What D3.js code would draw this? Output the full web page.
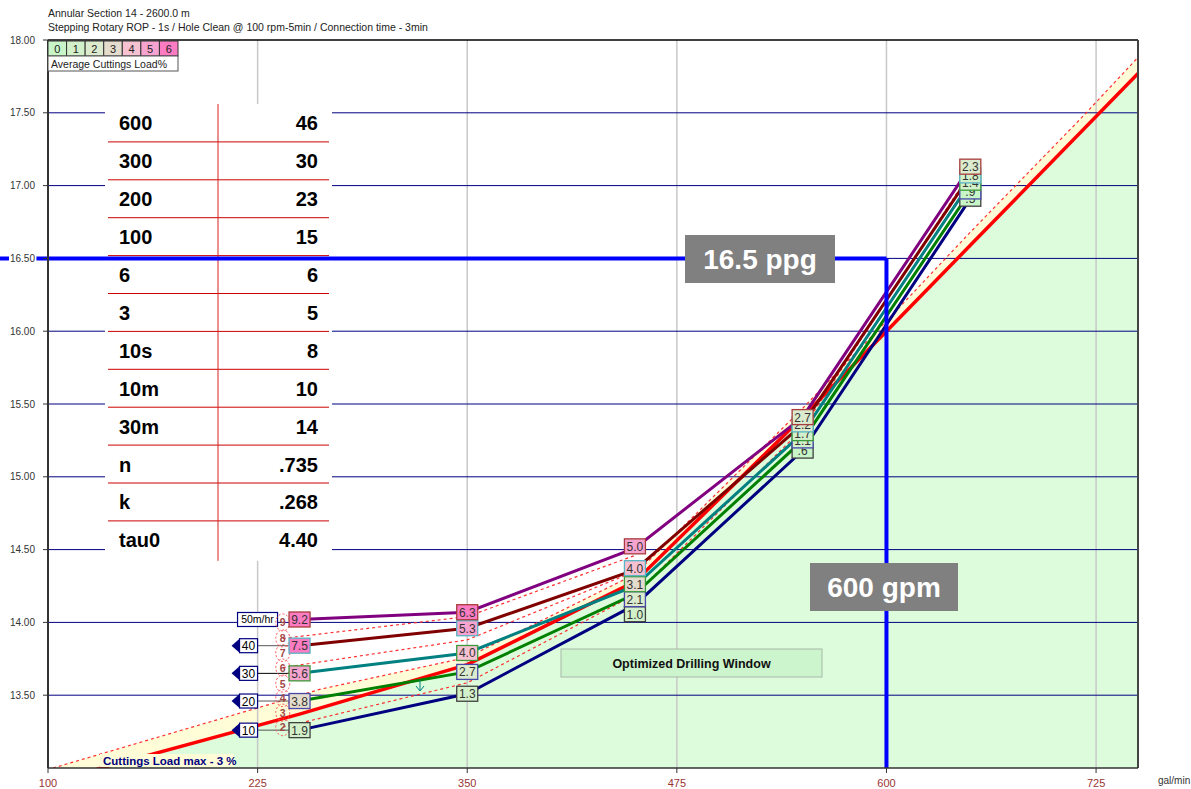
<!DOCTYPE html>
<html>
<head>
<meta charset="utf-8">
<script src="https://cdn.jsdelivr.net/npm/d3@7"></script>
<style>
  html, body { margin: 0; padding: 0; background: #fff; }
  svg { display: block; font-family: "Liberation Sans", Arial, sans-serif; }
</style>
</head>
<body>
<svg id="chart" width="1191" height="789"></svg>
<script>
// ---- data -------------------------------------------------------------
const titleLines = [
  "Annular Section 14 - 2600.0 m",
  "Stepping Rotary ROP - 1s / Hole Clean @ 100 rpm-5min / Connection time - 3min"
];
const xTicks = [100, 225, 350, 475, 600, 725];
const yTicks = [13.5, 14.0, 14.5, 15.0, 15.5, 16.0, 16.5, 17.0, 17.5, 18.0];

// flow rates (gal/min) at which each ROP curve is evaluated
const flowRates = [250, 350, 450, 550, 650];
const ropLabels = ["10", "20", "30", "40", "50m/hr"];
// equivalent circulating density (ppg) per ROP
const ecd10 = [13.26, 13.51, 14.12, 15.18, 16.91];
const ecd20 = [13.46, 13.66, 14.195, 15.25, 16.96];
const ecd30 = [13.65, 13.79, 14.25, 15.30, 17.02];
const ecd40 = [13.84, 13.96, 14.36, 15.36, 17.07];
const ecd50 = [14.02, 14.07, 14.51, 15.41, 17.13];
// average cuttings load (%) per ROP
const load10 = [1.9, 1.3, 1.0, 0.6, 0.5];
const load20 = [3.8, 2.7, 2.1, 1.1, 0.9];
const load30 = [5.6, 4.0, 3.1, 1.7, 1.4];
const load40 = [7.5, 5.3, 4.0, 2.2, 1.8];
const load50 = [9.2, 6.3, 5.0, 2.7, 2.3];

// cuttings load max 3 % limit line
const limitFlow = [100, 250, 350, 450, 550, 600, 650, 750];
const limitEcd  = [12.90, 13.37, 13.71, 14.28, 15.41, 16.00, 16.59, 17.77];
// upper edge of the tolerance band
const bandFlow = [103, 236, 262, 350, 450, 550, 600, 650, 715, 750];
const bandEcd  = [13.00, 13.45, 13.54, 13.76, 14.33, 15.47, 16.07, 16.68, 17.45, 17.88];
// cuttings load contour lines (dashed)
const contour2Flow = [240, 350, 450, 550, 650];
const contour2Ecd  = [13.28, 13.585, 14.19, 15.33, 17.09];
const contour6Flow = [240, 350, 450];
const contour6Ecd  = [13.69, 13.88, 14.35];
const contour8Flow = [240, 350, 450];
const contour8Ecd  = [13.89, 14.04, 14.46];

// contour level markers at the left end of the curves
const levelMarks = [2, 3, 4, 5, 6, 7, 8, 9];
const levelEcd   = [13.28, 13.38, 13.48, 13.58, 13.69, 13.79, 13.89, 14.00];
const levelFlow  = 240;

// legend of cuttings load classes
const legendClasses = ["0", "1", "2", "3", "4", "5", "6"];
const legendColors = ["#c8f5c8", "#d2f0c9", "#dcebcd", "#e4dccc", "#f6c2d2", "#f7a3cf", "#fb7cc2"];

// rheology table
const tableKeys   = ["600", "300", "200", "100", "6", "3", "10s", "10m", "30m", "n", "k", "tau0"];
const tableValues = ["46", "30", "23", "15", "6", "5", "8", "10", "14", ".735", ".268", "4.40"];

// operating point
const targetEcd = 16.5;
const targetFlow = 600;

// ---- styles -----------------------------------------------------------
const lineColors   = ["#000080", "#008000", "#008080", "#800000", "#800080"];
const boxBorders   = ["#404040", "#4848a8", "#3c9a3c", "#58b4c4", "#a83c3c"];
const loads = [load10, load20, load30, load40, load50];

const series = [ecd10, ecd20, ecd30, ecd40, ecd50].map((ecd, i) => ({
  rop: ropLabels[i],
  color: lineColors[i],
  border: boxBorders[i],
  points: flowRates.map((f, j) => ({ flow: f, ecd: ecd[j], load: loads[i][j] }))
}));

// ---- layout -----------------------------------------------------------
const svg = d3.select("#chart");
const plotL = 48, plotR = 1138, plotT = 40, plotB = 768;
const x = d3.scaleLinear().domain([100, 750]).range([plotL, plotR]);
const y = d3.scaleLinear().domain([13, 18]).range([plotB, plotT]);

svg.append("defs").append("clipPath").attr("id", "plotClip")
  .append("rect").attr("x", plotL).attr("y", plotT).attr("width", plotR - plotL).attr("height", plotB - plotT);

const plot = svg.append("g").attr("clip-path", "url(#plotClip)");

const toPts = (fs, es) => fs.map((f, i) => [f, es[i]]);
const line = d3.line().x(d => x(d[0])).y(d => y(d[1]));

// tolerance band (light yellow) between limit line and band edge
const bandPts = toPts(bandFlow, bandEcd);
const limitPts = toPts(limitFlow, limitEcd);
plot.append("path")
  .attr("d", line(bandPts.concat(limitPts.slice().reverse())) + "Z")
  .attr("fill", "#fffcd8");

// safe region below the limit line (light green)
const greenArea = d3.area().x(d => x(d[0])).y0(y(12)).y1(d => y(d[1]));
plot.append("path").attr("d", greenArea(limitPts)).attr("fill", "#dcfcdc");

// grid
plot.selectAll(".vgrid").data(xTicks.slice(1)).join("line")
  .attr("x1", d => x(d)).attr("x2", d => x(d))
  .attr("y1", plotT).attr("y2", plotB)
  .attr("stroke", "#c8c8c8").attr("stroke-width", 1.5);
plot.selectAll(".hgrid").data(yTicks.filter(v => v < 18)).join("line")
  .attr("x1", plotL).attr("x2", plotR)
  .attr("y1", d => y(d)).attr("y2", d => y(d))
  .attr("stroke", "#000080").attr("stroke-width", 1);

// window annotation
const win = svg.append("g");
win.append("rect").attr("x", 561).attr("y", 649).attr("width", 261).attr("height", 28)
  .attr("fill", "#cdf5cd").attr("stroke", "#a8b8a8");
win.append("text").attr("x", 691.5).attr("y", 668).attr("text-anchor", "middle")
  .attr("font-size", 12.5).attr("font-weight", "bold").attr("fill", "#111")
  .text("Optimized Drilling Window");

// dashed contour lines
const dashed = [toPts(contour2Flow, contour2Ecd), toPts(contour6Flow, contour6Ecd),
                toPts(contour8Flow, contour8Ecd), bandPts];
plot.selectAll(".contour").data(dashed).join("path")
  .attr("d", d => line(d))
  .attr("fill", "none").attr("stroke", "#ff3030").attr("stroke-width", 1.2)
  .attr("stroke-dasharray", "3,3");

// limit line
plot.append("path").attr("d", line(limitPts))
  .attr("fill", "none").attr("stroke", "#ff0000").attr("stroke-width", 3.5);

// ROP curves
plot.selectAll(".rop").data(series).join("path")
  .attr("d", s => d3.line().x(p => x(p.flow)).y(p => y(p.ecd))(s.points))
  .attr("fill", "none").attr("stroke", s => s.color).attr("stroke-width", 3);

// small flow-direction tick
svg.append("path").attr("d", "M420,680 L420,691 M416,686 L420,691 L424,686")
  .attr("fill", "none").attr("stroke", "#008080").attr("stroke-width", 1);

// ROP markers and connectors at the first flow rate
const mk = svg.append("g");
series.forEach((s, i) => {
  const p = s.points[0];
  const py = y(p.ecd);
  const bx = x(p.flow);
  if (i < 4) {
    mk.append("line").attr("x1", bx - 42).attr("x2", bx - 10).attr("y1", py).attr("y2", py)
      .attr("stroke", i === 2 ? "#000" : "#555").attr("stroke-width", 1);
    mk.append("path")
      .attr("d", `M${bx - 68},${py} L${bx - 60},${py - 7} L${bx - 60},${py + 7} Z`)
      .attr("fill", "#000080");
    mk.append("rect").attr("x", bx - 60).attr("y", py - 7).attr("width", 18).attr("height", 14)
      .attr("fill", "#fff").attr("stroke", "#000080").attr("stroke-width", 1.2);
    mk.append("text").attr("x", bx - 51).attr("y", py + 4.5).attr("text-anchor", "middle")
      .attr("font-size", 12).attr("fill", "#000").text(s.rop);
  } else {
    mk.append("rect").attr("x", bx - 62).attr("y", py - 7).attr("width", 40).attr("height", 14)
      .attr("fill", "#fff").attr("stroke", "#000080").attr("stroke-width", 1.2);
    mk.append("text").attr("x", bx - 42).attr("y", py + 4).attr("text-anchor", "middle")
      .attr("font-size", 10.5).attr("fill", "#000").text(s.rop);
  }
});

// contour level ladder
const lad = svg.append("g");
levelMarks.forEach((lv, i) => {
  const cy = y(levelEcd[i]);
  lad.append("ellipse").attr("cx", x(levelFlow)).attr("cy", cy).attr("rx", 7).attr("ry", 8.5)
    .attr("fill", "none").attr("stroke", "#ff5050").attr("stroke-width", 1)
    .attr("stroke-dasharray", "2,2");
});
levelMarks.forEach((lv, i) => {
  lad.append("text").attr("x", x(levelFlow)).attr("y", y(levelEcd[i]) + 4)
    .attr("text-anchor", "middle").attr("font-size", 10.5).attr("font-weight", "bold")
    .attr("fill", "#a04848").text(lv);
});

// load value boxes
const fmtLoad = v => d3.format(".1f")(v).replace(/^0\./, ".");
const boxes = svg.append("g");
flowRates.forEach((f, j) => {
  let cols = series.map((s, i) => ({ i, y: y(s.points[j].ecd), s, p: s.points[j] }));
  cols.sort((a, b) => b.y - a.y); // bottom first
  const span = cols[0].y - cols[cols.length - 1].y;
  if (span > 45) {
    // spread labels so they do not overlap
    const asc = cols.slice().reverse();
    const orig = d3.mean(asc, c => c.y);
    for (let k = 1; k < asc.length; k++) asc[k].y = Math.max(asc[k].y, asc[k - 1].y + 15);
    const shift = (orig - d3.mean(asc, c => c.y)) / 2;
    asc.forEach(c => c.y += shift);
  }
  cols.forEach(c => {
    const g = boxes.append("g").attr("transform", `translate(${x(f)},${c.y})`);
    g.append("rect").attr("x", -10.5).attr("y", -7.5).attr("width", 21).attr("height", 15)
      .attr("fill", legendColors[Math.min(6, Math.floor(c.p.load))])
      .attr("stroke", c.s.border).attr("stroke-width", 1.3);
    g.append("text").attr("y", 4.5).attr("text-anchor", "middle").attr("font-size", 12)
      .attr("fill", "#333").text(fmtLoad(c.p.load));
  });
});

// rheology table
const tbl = svg.append("g");
const tX0 = 105, tX1 = 332, tY0 = 104, rowH = 37.9;
tbl.append("rect").attr("x", tX0).attr("y", tY0).attr("width", tX1 - tX0).attr("height", rowH * 12 + 2)
  .attr("fill", "#fff");
tableKeys.forEach((k, i) => {
  const cy = tY0 + rowH * (i + 0.5);
  tbl.append("text").attr("x", 119).attr("y", cy + 7.5).attr("font-size", 20).attr("font-weight", "bold")
    .attr("fill", "#000").text(k);
  tbl.append("text").attr("x", 318).attr("y", cy + 7.5).attr("text-anchor", "end")
    .attr("font-size", 20).attr("font-weight", "bold").attr("fill", "#000").text(tableValues[i]);
  if (i > 0) {
    tbl.append("line").attr("x1", 108).attr("x2", 329).attr("y1", tY0 + rowH * i).attr("y2", tY0 + rowH * i)
      .attr("stroke", "#cc0000").attr("stroke-width", 1);
  }
});
tbl.append("line").attr("x1", 218).attr("x2", 218).attr("y1", tY0).attr("y2", tY0 + rowH * 12 + 2)
  .attr("stroke", "#dd2222").attr("stroke-width", 1);

// operating point guides
const op = svg.append("g");
op.append("line").attr("x1", 0).attr("x2", x(targetFlow)).attr("y1", y(targetEcd)).attr("y2", y(targetEcd))
  .attr("stroke", "#0000ff").attr("stroke-width", 4);
op.append("line").attr("x1", x(targetFlow)).attr("x2", x(targetFlow)).attr("y1", y(targetEcd)).attr("y2", plotB)
  .attr("stroke", "#0000ff").attr("stroke-width", 4);
op.append("rect").attr("x", 685).attr("y", 235).attr("width", 150).attr("height", 48).attr("fill", "#808080");
op.append("text").attr("x", 760).attr("y", 269).attr("text-anchor", "middle")
  .attr("font-size", 28).attr("font-weight", "bold").attr("fill", "#fff").text(targetEcd + " ppg");
op.append("rect").attr("x", 810).attr("y", 563).attr("width", 148).attr("height", 48).attr("fill", "#808080");
op.append("text").attr("x", 884).attr("y", 597).attr("text-anchor", "middle")
  .attr("font-size", 28).attr("font-weight", "bold").attr("fill", "#fff").text(targetFlow + " gpm");

// limit label
const lim = svg.append("g");
lim.append("rect").attr("x", 100).attr("y", 754).attr("width", 134).attr("height", 13).attr("fill", "#fffcd8");
lim.append("text").attr("x", 103).attr("y", 765).attr("font-size", 11.5).attr("font-weight", "bold")
  .attr("fill", "#000080").text("Cuttings Load max - 3 %");

// frame
const frame = svg.append("g");
frame.append("line").attr("x1", plotL).attr("x2", plotR).attr("y1", plotT).attr("y2", plotT)
  .attr("stroke", "#000").attr("stroke-width", 1.5);
frame.append("line").attr("x1", plotR).attr("x2", plotR).attr("y1", plotT).attr("y2", plotB)
  .attr("stroke", "#444").attr("stroke-width", 2);
frame.append("line").attr("x1", plotL).attr("x2", plotR).attr("y1", plotB).attr("y2", plotB)
  .attr("stroke", "#333").attr("stroke-width", 1.5);
frame.append("line").attr("x1", plotL).attr("x2", plotL).attr("y1", plotT).attr("y2", plotB)
  .attr("stroke", "#333").attr("stroke-width", 2);

// y axis labels
const ya = svg.append("g");
yTicks.forEach(v => {
  ya.append("line").attr("x1", plotL - 5).attr("x2", plotL).attr("y1", y(v)).attr("y2", y(v))
    .attr("stroke", "#333").attr("stroke-width", 1);
  const t = ya.append("text").attr("x", 35).attr("y", y(v) + 3.5).attr("text-anchor", "end")
    .attr("font-size", 10).attr("fill", "#333").text(d3.format(".2f")(v));
  if (v === targetEcd) {
    const bb = t.node().getBBox();
    ya.insert("rect", "text").attr("x", bb.x - 1).attr("y", bb.y).attr("width", bb.width + 2)
      .attr("height", bb.height).attr("fill", "#fff");
  }
});

// x axis labels
const xa = svg.append("g");
xTicks.forEach(v => {
  xa.append("line").attr("x1", x(v)).attr("x2", x(v)).attr("y1", plotB).attr("y2", plotB + 5)
    .attr("stroke", "#333").attr("stroke-width", 1);
  xa.append("text").attr("x", x(v)).attr("y", 787).attr("text-anchor", "middle")
    .attr("font-size", 11).attr("fill", "#993333").text(v);
});
xa.append("text").attr("x", 1158).attr("y", 784).attr("font-size", 10).attr("fill", "#333").text("gal/min");

// titles
titleLines.forEach((t, i) => {
  svg.append("text").attr("x", 48).attr("y", 17 + i * 14).attr("font-size", 10.5)
    .attr("fill", "#222").text(t);
});

// legend
const lg = svg.append("g");
const cw = 130 / legendClasses.length;
legendClasses.forEach((c, i) => {
  lg.append("rect").attr("x", plotL + i * cw).attr("y", 41).attr("width", cw).attr("height", 15)
    .attr("fill", legendColors[i]).attr("stroke", "#333").attr("stroke-width", 1);
  lg.append("text").attr("x", plotL + i * cw + cw / 2).attr("y", 53).attr("text-anchor", "middle")
    .attr("font-size", 11).attr("fill", "#222").text(c);
});
lg.append("rect").attr("x", plotL).attr("y", 56).attr("width", 130).attr("height", 15)
  .attr("fill", "#fff").attr("stroke", "#555").attr("stroke-width", 1);
lg.append("text").attr("x", plotL + 3).attr("y", 67.5).attr("font-size", 10.5).attr("fill", "#222")
  .text("Average Cuttings Load%");
</script>
</body>
</html>
